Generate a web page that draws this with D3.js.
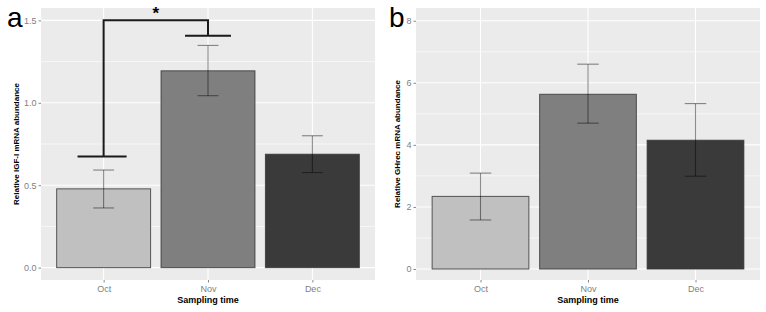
<!DOCTYPE html>
<html>
<head>
<meta charset="utf-8">
<script src="https://cdn.jsdelivr.net/npm/d3@7"></script>
<style>
  body { margin: 0; background: #fff; }
  svg { display: block; font-family: "Liberation Sans", Arial, sans-serif; }
</style>
</head>
<body>
<svg id="chart" width="766" height="312"></svg>
<script>
// data
const months = ['Oct', 'Nov', 'Dec'];
const barFills = ['#c0c0c0', '#7f7f7f', '#3a3a3a'];

const igfMean = [0.478, 1.194, 0.688];
const igfLow  = [0.362, 1.043, 0.577];
const igfHigh = [0.592, 1.348, 0.800];
const igfTicks = [0, 0.5, 1.0, 1.5];

const ghrMean = [2.34, 5.63, 4.15];
const ghrLow  = [1.58, 4.70, 2.99];
const ghrHigh = [3.09, 6.60, 5.33];
const ghrTicks = [0, 2, 4, 6, 8];

const svg = d3.select('#chart');

const drawPanel = (p) => {
    const g = svg.append('g');
    const x = d3.scaleLinear().domain([0.4, 3.6]).range([p.left, p.right]);
    const y = d3.scaleLinear().domain(p.yDomain).range([p.bottom, p.top]);

    // panel background
    g.append('rect')
        .attr('x', p.left).attr('y', p.top)
        .attr('width', p.right - p.left).attr('height', p.bottom - p.top)
        .attr('fill', '#ebebeb');

    // minor grid, halfway between the majors
    const minor = p.ticks.slice(1).map((t, i) => (t + p.ticks[i]) / 2);
    g.selectAll('.minor').data(minor).enter().append('line')
        .attr('x1', p.left).attr('x2', p.right)
        .attr('y1', (d) => y(d)).attr('y2', (d) => y(d))
        .attr('stroke', '#fff').attr('stroke-width', 0.6);

    g.selectAll('.major').data(p.ticks).enter().append('line')
        .attr('x1', p.left).attr('x2', p.right)
        .attr('y1', (d) => y(d)).attr('y2', (d) => y(d))
        .attr('stroke', '#fff').attr('stroke-width', 1.1);

    g.selectAll('.vgrid').data(months).enter().append('line')
        .attr('x1', (d, i) => x(i + 1)).attr('x2', (d, i) => x(i + 1))
        .attr('y1', p.top).attr('y2', p.bottom)
        .attr('stroke', '#fff').attr('stroke-width', 1.1);

    // bars
    g.selectAll('.bar').data(p.mean).enter().append('rect')
        .attr('x', (d, i) => x(i + 1 - 0.45))
        .attr('width', x(1.45) - x(0.55))
        .attr('y', (d) => y(d))
        .attr('height', (d) => y(0) - y(d))
        .attr('fill', (d, i) => barFills[i])
        .attr('stroke', '#333').attr('stroke-opacity', 0.8)
        .attr('stroke-width', 1);

    // error bars
    const cap = (x(1.1) - x(0.9)) / 2;
    months.forEach((m, i) => {
        const cx = x(i + 1);
        const eb = g.append('g').attr('stroke', '#000').attr('stroke-opacity', 0.45).attr('stroke-width', 1.1);
        eb.append('line').attr('x1', cx).attr('x2', cx).attr('y1', y(p.low[i])).attr('y2', y(p.high[i]));
        eb.append('line').attr('x1', cx - cap).attr('x2', cx + cap).attr('y1', y(p.low[i])).attr('y2', y(p.low[i]));
        eb.append('line').attr('x1', cx - cap).attr('x2', cx + cap).attr('y1', y(p.high[i])).attr('y2', y(p.high[i]));
    });

    // axes
    const yAxis = g.append('g').attr('transform', 'translate(' + p.left + ',0)')
        .call(d3.axisLeft(y).tickValues(p.ticks).tickSize(2.5).tickPadding(2)
            .tickFormat(p.fmt));
    yAxis.select('.domain').remove();
    yAxis.selectAll('line').attr('stroke', '#888');
    yAxis.selectAll('text').attr('fill', '#7f7f7f').style('font-size', '9px');

    const xAxis = g.append('g').attr('transform', 'translate(0,' + p.bottom + ')')
        .call(d3.axisBottom(x).tickValues([1, 2, 3]).tickSize(2.5).tickPadding(3)
            .tickFormat((d) => months[d - 1]));
    xAxis.select('.domain').remove();
    xAxis.selectAll('line').attr('stroke', '#888');
    xAxis.selectAll('text').attr('fill', '#7f7f7f').style('font-size', '9px');

    g.append('text')
        .attr('x', (p.left + p.right) / 2).attr('y', 302.5)
        .attr('text-anchor', 'middle')
        .style('font-size', '9px').style('font-weight', 'bold')
        .text('Sampling time');

    g.append('text')
        .attr('transform', 'translate(' + p.titleX + ',' + ((p.top + p.bottom) / 2) + ') rotate(-90)')
        .attr('text-anchor', 'middle')
        .style('font-size', '8px').style('font-weight', 'bold')
        .text(p.title);

    g.append('text')
        .attr('x', p.tagX).attr('y', 27)
        .style('font-size', '28px')
        .text(p.tag);

    return {x: x, y: y, g: g};
}

const a = drawPanel({
    left: 41, right: 375, top: 8, bottom: 280,
    yDomain: [-0.075, 1.575], ticks: igfTicks, fmt: d3.format('.1f'),
    mean: igfMean, low: igfLow, high: igfHigh,
    title: 'Relative IGF-I mRNA abundance', titleX: 19, tag: 'a', tagX: 7
});

drawPanel({
    left: 416, right: 760, top: 8, bottom: 280,
    yDomain: [-0.354, 8.41], ticks: ghrTicks, fmt: d3.format('d'),
    mean: ghrMean, low: ghrLow, high: ghrHigh,
    title: 'Relative GHrec mRNA abundance', titleX: 400, tag: 'b', tagX: 389
});

// significance bracket between Oct and Nov in panel a
const bracketTop = 1.5, octFoot = 0.674, novFoot = 1.407;
const br = a.g.append('g').attr('stroke', '#1a1a1a').attr('stroke-width', 2).attr('fill', 'none');
br.append('path').attr('d', d3.line()([
    [a.x(1), a.y(octFoot)], [a.x(1), a.y(bracketTop)],
    [a.x(2), a.y(bracketTop)], [a.x(2), a.y(novFoot)]
]));
br.append('line').attr('x1', a.x(0.75)).attr('x2', a.x(1.22))
    .attr('y1', a.y(octFoot)).attr('y2', a.y(octFoot));
br.append('line').attr('x1', a.x(1.78)).attr('x2', a.x(2.22))
    .attr('y1', a.y(novFoot)).attr('y2', a.y(novFoot));
a.g.append('text')
    .attr('x', a.x(1.5)).attr('y', a.y(bracketTop) - 1)
    .attr('text-anchor', 'middle')
    .style('font-size', '17px').style('font-weight', 'bold')
    .text('*');
</script>
</body>
</html>
